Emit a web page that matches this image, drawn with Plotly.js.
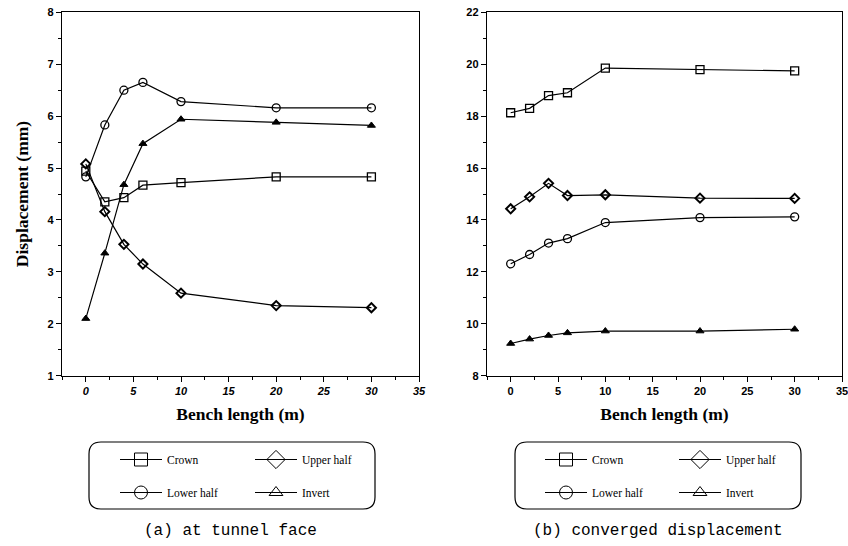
<!DOCTYPE html>
<html>
<head>
<meta charset="utf-8">
<script src="https://cdn.plot.ly/plotly-3.0.1.min.js"></script>
<style>html,body{margin:0;padding:0;background:#fff;}#chart{width:848px;height:546px;}</style>
</head>
<body>
<div id="chart"></div>
<script>
// ---- data ----
const benchLength = [0, 2, 4, 6, 10, 20, 30];
const seriesNames = ["Crown", "Upper half", "Lower half", "Invert"];
// (a) at tunnel face
const faceCrown  = [4.94, 4.35, 4.43, 4.67, 4.72, 4.83, 4.83];
const faceUpper  = [5.08, 4.16, 3.53, 3.15, 2.59, 2.35, 2.31];
const faceLower  = [4.83, 5.83, 6.50, 6.65, 6.28, 6.16, 6.16];
const faceInvert = [2.10, 3.36, 4.68, 5.47, 5.94, 5.88, 5.82];
// (b) converged displacement
const convCrown  = [18.13, 18.30, 18.79, 18.90, 19.85, 19.79, 19.74];
const convUpper  = [14.43, 14.89, 15.41, 14.94, 14.97, 14.84, 14.83];
const convLower  = [12.31, 12.67, 13.11, 13.28, 13.90, 14.09, 14.12];
const convInvert = [9.24, 9.41, 9.55, 9.65, 9.72, 9.72, 9.79];
const xTitle = "Bench length (m)";
const yTitle = "Displacement (mm)";
const captions = ["(a) at tunnel face", "(b) converged displacement"];

// ---- styles ----
const W = 848, H = 546;
const symbols = {"Crown": "square-open", "Upper half": "diamond-open", "Lower half": "circle-open", "Invert": "triangle-up"};
const legSymbols = {"Crown": "square-open", "Upper half": "diamond-open", "Lower half": "circle-open", "Invert": "triangle-up-open"};
const msize = {"Crown": 8, "Upper half": 7, "Lower half": 8, "Invert": 7};
const legSize = {"Crown": 13, "Upper half": 14, "Lower half": 13, "Invert": 12};
const mline = {"Crown": 1.3, "Upper half": 2, "Lower half": 1.3, "Invert": 1};

function mk(name, y, xa, ya) {
  return {
    type: "scatter", mode: "lines+markers", name: name,
    x: benchLength, y: y, xaxis: xa, yaxis: ya, showlegend: false,
    line: {color: "#000", width: 1.2},
    marker: {symbol: symbols[name], size: msize[name], color: "#000",
             line: {color: "#000", width: mline[name]}},
    cliponaxis: false
  };
}
// legend key entries (no data points)
function key(name, xa, ya, legendId, grp) {
  return {
    type: "scatter", mode: "lines+markers", name: name,
    x: [null], y: [null], xaxis: xa, yaxis: ya,
    legend: legendId, legendgroup: grp, showlegend: true,
    line: {color: "#000", width: 1},
    marker: {symbol: legSymbols[name], size: legSize[name], color: "#000",
             line: {color: "#000", width: 1}}
  };
}

const traces = [
  mk("Crown", faceCrown, "x", "y"),
  mk("Upper half", faceUpper, "x", "y"),
  mk("Lower half", faceLower, "x", "y"),
  mk("Invert", faceInvert, "x", "y"),
  mk("Crown", convCrown, "x2", "y2"),
  mk("Upper half", convUpper, "x2", "y2"),
  mk("Lower half", convLower, "x2", "y2"),
  mk("Invert", convInvert, "x2", "y2"),
  key("Crown", "x", "y", "legend", "a1"),
  key("Lower half", "x", "y", "legend", "a2"),
  key("Upper half", "x", "y", "legend2", "a3"),
  key("Invert", "x", "y", "legend2", "a4"),
  key("Crown", "x2", "y2", "legend3", "b1"),
  key("Lower half", "x2", "y2", "legend3", "b2"),
  key("Upper half", "x2", "y2", "legend4", "b3"),
  key("Invert", "x2", "y2", "legend4", "b4")
];

const tickFont = {family: "Liberation Sans, Arial", size: 11, color: "#000", weight: "bold"};
const titleFont = {family: "Liberation Serif, Times New Roman", size: 17.5, color: "#000", weight: "bold"};

function xax(domain, anchor, italic) {
  return {
    domain: domain, anchor: anchor, range: [-2.5, 35], tick0: 0, dtick: 5,
    ticks: "outside", ticklen: 5, tickwidth: 1, tickcolor: "#000",
    minor: {dtick: 2.5, tick0: 0, ticks: "outside", ticklen: 3, tickcolor: "#000"},
    showline: true, linecolor: "#000", linewidth: 1.2, mirror: true,
    showgrid: false, zeroline: false, ticklabeloverflow: "allow",
    tickfont: Object.assign({}, tickFont, italic ? {style: "italic"} : {}),
    title: {text: xTitle, font: titleFont, standoff: 11}
  };
}
function yax(domain, anchor, range, dt, mdt, title) {
  return {
    domain: domain, anchor: anchor, range: range, dtick: dt, tick0: range[0],
    ticks: "outside", ticklen: 5, tickwidth: 1, tickcolor: "#000",
    minor: {dtick: mdt, tick0: range[0], ticks: "outside", ticklen: 3, tickcolor: "#000"},
    showline: true, linecolor: "#000", linewidth: 1.2, mirror: true,
    showgrid: false, zeroline: false, tickfont: tickFont, ticklabeloverflow: "allow",
    title: title ? {text: yTitle, font: titleFont, standoff: 14} : {text: ""}
  };
}

const yDom = [1 - 375.7 / H, 1 - 12.3 / H];

function leg(px, py) {
  return {x: px / W, y: 1 - py / H, xanchor: "left", yanchor: "top",
          orientation: "v", bgcolor: "rgba(0,0,0,0)", borderwidth: 0,
          font: {family: "Liberation Serif, Times New Roman", size: 11.5, color: "#000"},
          itemwidth: 42, tracegroupgap: 14, itemclick: false};
}

function roundRect(x0, y0, x1, y1, r) {
  const X0 = x0 / W, X1 = x1 / W, T = 1 - y0 / H, B = 1 - y1 / H;
  const rx = r / W, ry = r / H;
  return `M${X0 + rx},${T} L${X1 - rx},${T} Q${X1},${T} ${X1},${T - ry} L${X1},${B + ry} Q${X1},${B} ${X1 - rx},${B} L${X0 + rx},${B} Q${X0},${B} ${X0},${B + ry} L${X0},${T - ry} Q${X0},${T} ${X0 + rx},${T} Z`;
}

const capFont = {family: "Liberation Mono, DejaVu Sans Mono", size: 16, color: "#000"};

const layout = {
  width: W, height: H,
  margin: {l: 0, r: 0, t: 0, b: 0},
  paper_bgcolor: "#fff", plot_bgcolor: "#fff",
  showlegend: true,
  xaxis: xax([62 / W, 419 / W], "y", true),
  yaxis: yax(yDom, "x", [1, 8], 1, 0.5, true),
  xaxis2: xax([487 / W, 842 / W], "y2", false),
  yaxis2: yax(yDom, "x2", [8, 22], 2, 1, false),
  legend: leg(115, 445),
  legend2: leg(250, 445),
  legend3: leg(540, 445),
  legend4: leg(674, 445),
  shapes: [
    {type: "path", xref: "paper", yref: "paper", path: roundRect(89, 442, 375, 509, 12), line: {color: "#000", width: 1.2}},
    {type: "path", xref: "paper", yref: "paper", path: roundRect(515, 442, 801, 509, 12), line: {color: "#000", width: 1.2}}
  ],
  annotations: [
    {text: captions[0], xref: "paper", yref: "paper", x: 230 / W, y: 1 - 531 / H, xanchor: "center", yanchor: "middle",
     showarrow: false, font: capFont},
    {text: captions[1], xref: "paper", yref: "paper", x: 658 / W, y: 1 - 531 / H, xanchor: "center", yanchor: "middle",
     showarrow: false, font: capFont}
  ]
};

Plotly.newPlot("chart", traces, layout, {staticPlot: true, displayModeBar: false});
</script>
</body>
</html>
